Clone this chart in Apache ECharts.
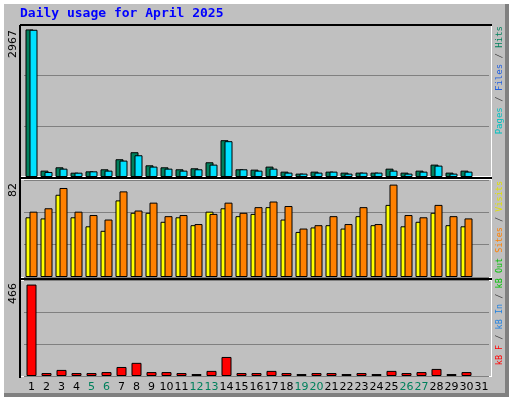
<!DOCTYPE html>
<html><head><meta charset="utf-8">
<script src="https://cdn.jsdelivr.net/npm/echarts@6/dist/echarts.min.js"></script>
<style>html,body{margin:0;padding:0;background:#fff}#c{width:512px;height:400px}</style>
</head><body><div id="c"></div>
<script>
const days = Array.from({length:31},(_,i)=>String(i+1));
const weekend = ['5','6','12','13','19','20','26','27'];
const hits  = [2967,128,195,87,114,155,357,498,235,195,155,175,296,740,155,148,209,108,68,108,108,88,88,88,168,88,128,249,88,128,null];
const pages = [2960,101,168,87,114,128,330,437,209,168,128,155,249,720,155,128,168,88,68,88,108,68,88,88,128,68,108,229,68,108,null];
const visits= [53,52,73,53,45,41,68,57,57,49,53,46,58,61,54,56,62,51,40,44,46,43,54,46,64,45,49,57,46,45,null];
const sites = [58,61,79,58,55,51,76,59,66,54,55,47,56,66,57,62,67,63,43,46,54,47,62,47,82,55,53,64,54,52,null];
const kbF   = [466,15,31,15,15,20,46,67,20,20,15,10,26,97,15,15,26,15,10,15,15,10,15,10,26,15,20,36,10,20,null];
const maxTop = Math.max(...hits.filter(v=>v!=null));
const maxMid = Math.max(...sites.filter(v=>v!=null));
const maxBot = Math.max(...kbF.filter(v=>v!=null));

const chart = echarts.init(document.getElementById('c'));
const L=24, W=465;
const grids=[{left:L,width:W,top:25,height:152},{left:L,width:W,top:180,height:97},{left:L,width:W,top:280,height:96}];
const mk=(i,max,f)=>({gridIndex:i,type:'value',min:0,max:max*f,interval:max*f/3,axisLabel:{show:false},axisLine:{show:false},axisTick:{show:false},splitLine:{lineStyle:{color:'#808080',width:1}}});
const xa=(i)=>({gridIndex:i,type:'category',data:days,axisTick:{show:false},axisLine:{show:false},
  axisLabel:{show:i===2,margin:6,fontFamily:'DejaVu Sans',fontSize:11,interval:0,
   color:(v)=>weekend.includes(v)?'#00805c':'#000'}});
const bs={borderColor:'#000',borderWidth:1};
chart.setOption({
  animation:false,
  grid:grids,
  xAxis:[xa(0),xa(1),xa(2)],
  yAxis:[mk(0,maxTop,1.03),mk(1,maxMid,1.05),mk(2,maxBot,1.05)],
  series:[
    {type:'bar',xAxisIndex:0,yAxisIndex:0,data:hits,barWidth:8,barGap:'-50%',itemStyle:{color:'#00805c',...bs}},
    {type:'bar',xAxisIndex:0,yAxisIndex:0,data:pages,barWidth:8,itemStyle:{color:'#00e0ff',...bs}},
    {type:'bar',xAxisIndex:1,yAxisIndex:1,data:visits,barWidth:8,barGap:'-50%',itemStyle:{color:'#ffff00',...bs}},
    {type:'bar',xAxisIndex:1,yAxisIndex:1,data:sites,barWidth:8,itemStyle:{color:'#ff8000',...bs}},
    {type:'bar',xAxisIndex:2,yAxisIndex:2,data:kbF,barWidth:10,itemStyle:{color:'#ff0000',...bs}}
  ],
  graphic:[
    {type:'rect',z:-10,shape:{x:0,y:0,width:512,height:400},style:{fill:'#fff'}},
    {type:'rect',z:-9,shape:{x:4,y:4,width:505,height:393},style:{fill:'#808080'}},
    {type:'rect',z:-8,shape:{x:4,y:4,width:501,height:389},style:{fill:'#c0c0c0'}},
    {type:'rect',z:-7,shape:{x:20,y:25,width:472,height:352},style:{fill:'#fff'}},
    {type:'rect',z:-6,shape:{x:21,y:26,width:470,height:150},style:{fill:'#c0c0c0'}},
    {type:'rect',z:-6,shape:{x:21,y:180,width:470,height:97},style:{fill:'#c0c0c0'}},
    {type:'rect',z:-6,shape:{x:21,y:281,width:470,height:95},style:{fill:'#c0c0c0'}},
    {type:'line',z:5,shape:{x1:20,y1:25,x2:492,y2:25},style:{stroke:'#000',lineWidth:2}},
    {type:'line',z:5,shape:{x1:20,y1:25,x2:20,y2:378},style:{stroke:'#000',lineWidth:2}},
    {type:'line',z:5,shape:{x1:20,y1:178,x2:492,y2:178},style:{stroke:'#000',lineWidth:2}},
    {type:'line',z:5,shape:{x1:20,y1:279,x2:492,y2:279},style:{stroke:'#000',lineWidth:2}},
    {type:'text',left:20,top:7,style:{text:'Daily usage for April 2025',fill:'#0000ff',font:'bold 13px "DejaVu Sans Mono"'}},
    {type:'text',x:8,y:30,rotation:Math.PI/2,style:{text:String(maxTop),fill:'#000',font:'11px "DejaVu Sans"',align:'right',verticalAlign:'top'}},
    {type:'text',x:8,y:183,rotation:Math.PI/2,style:{text:String(maxMid),fill:'#000',font:'11px "DejaVu Sans"',align:'right',verticalAlign:'top'}},
    {type:'text',x:8,y:283,rotation:Math.PI/2,style:{text:String(maxBot),fill:'#000',font:'11px "DejaVu Sans"',align:'right',verticalAlign:'top'}},
    {type:'text',x:495,y:26,rotation:Math.PI/2,style:{text:'{c|Pages} {k|/} {b|Files} {k|/} {g|Hits}',align:'right',verticalAlign:'top',font:'9px "DejaVu Sans Mono"',
      rich:{c:{fill:'#00c0c0',font:'9px "DejaVu Sans Mono"'},k:{fill:'#404040',font:'9px "DejaVu Sans Mono"'},b:{fill:'#2060e0',font:'9px "DejaVu Sans Mono"'},g:{fill:'#00805c',font:'9px "DejaVu Sans Mono"'}}}},
    {type:'text',x:495,y:181,rotation:Math.PI/2,style:{text:'{r|kB F} {k|/} {b|kB In} {k|/} {g|kB Out} {o|Sites} {k|/} {y|Visits}',align:'right',verticalAlign:'top',font:'8.5px "DejaVu Sans Mono"',
      rich:{r:{fill:'#ff0000',font:'8.5px "DejaVu Sans Mono"'},k:{fill:'#404040',font:'8.5px "DejaVu Sans Mono"'},b:{fill:'#2080e0',font:'8.5px "DejaVu Sans Mono"'},g:{fill:'#00c000',font:'8.5px "DejaVu Sans Mono"'},o:{fill:'#ff8000',font:'8.5px "DejaVu Sans Mono"'},y:{fill:'#e0e000',font:'8.5px "DejaVu Sans Mono"'}}}}
  ]
});
</script></body></html>
